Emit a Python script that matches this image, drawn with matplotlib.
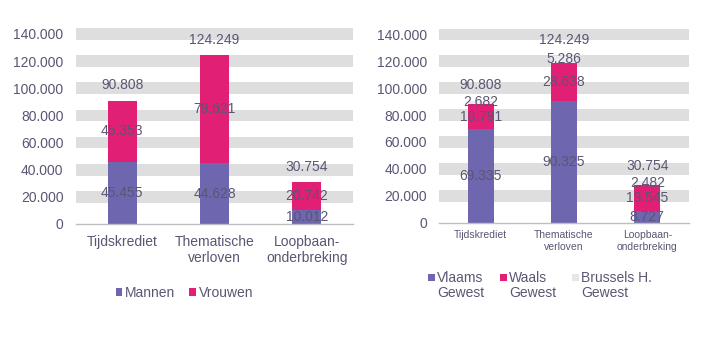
import matplotlib
matplotlib.use("Agg")
import matplotlib.pyplot as plt
from matplotlib.patches import Rectangle
import numpy as np

plt.rcParams['font.family'] = ['Liberation Sans', 'DejaVu Sans']

categories_left = ["Tijdskrediet", "Thematische\nverloven", "Loopbaan-\nonderbreking"]
mannen = [45455, 44628, 10012]
vrouwen = [45353, 79621, 20742]
totals = [90808, 124249, 30754]

categories_right = ["Tijdskrediet", "Thematische\nverloven", "Loopbaan-\nonderbreking"]
vlaams = [69335, 90325, 8727]
waals = [18791, 28638, 19545]
brussels = [2682, 5286, 2482]
legend_right = ["Vlaams\nGewest", "Waals\nGewest", "Brussels H.\nGewest"]

yticks = [0, 20000, 40000, 60000, 80000, 100000, 120000, 140000]

PURPLE = '#6E66AE'
MAGENTA = '#E01F75'
LIGHT = '#EDEDF1'
STRIPE = '#DEDEDE'
TXT = '#5a5673'
FS = 10

def fmt(v):
    return f"{v:,}".replace(",", ".")

W, H = 720, 343
fig = plt.figure(figsize=(7.2, 3.43), dpi=100)

def setup(ax, cats, xfs, pad_y, pad_x, ls):
    ax.set_xlim(-0.5, len(cats) - 0.5)
    ax.set_ylim(0, 145000)
    for v in yticks[1:]:
        ax.axhspan(v - 4300, v + 4300, color=STRIPE, lw=0, zorder=0)
    for s in ['top', 'right', 'left']:
        ax.spines[s].set_visible(False)
    ax.spines['bottom'].set_color('#BFBFBF')
    ax.spines['bottom'].set_linewidth(1.0)
    ax.set_yticks(yticks)
    ax.set_yticklabels([fmt(v) for v in yticks], fontsize=FS, color=TXT)
    ax.set_xticks(range(len(cats)))
    ax.set_xticklabels(cats, fontsize=xfs, color=TXT, linespacing=ls)
    ax.tick_params(axis='y', length=0, pad=pad_y)
    ax.tick_params(axis='x', length=0, pad=pad_x)

# Left chart
axL = fig.add_axes([0.1056, 0.347, 0.3847, 0.574])
setup(axL, categories_left, FS, 9, 8, 1.15)
x = np.arange(len(categories_left))
w = 0.315
b1 = axL.bar(x, mannen, w, color=PURPLE, zorder=2)
b2 = axL.bar(x, vrouwen, w, bottom=mannen, color=MAGENTA, zorder=2)
for i in range(len(x)):
    axL.text(x[i], mannen[i] / 2, fmt(mannen[i]), ha='center', va='center', fontsize=FS, color=TXT, zorder=3)
    axL.text(x[i], mannen[i] + vrouwen[i] / 2, fmt(vrouwen[i]), ha='center', va='center', fontsize=FS, color=TXT, zorder=3)
    axL.annotate(fmt(totals[i]), (x[i], mannen[i] + vrouwen[i]), xytext=(0, 11), textcoords='offset points',
                 ha='center', va='center', fontsize=FS, color=TXT, zorder=3)
legL = fig.legend([b1, b2], ["Mannen", "Vrouwen"], loc='center', bbox_to_anchor=(0.256, 0.1466), ncol=2,
                  frameon=False, fontsize=FS, handlelength=0.47, handleheight=0.47, handletextpad=0.2,
                  columnspacing=1.0, labelcolor=TXT)

# Right chart
axR = fig.add_axes([0.6097, 0.3507, 0.3472, 0.5687])
setup(axR, categories_right, 7.5, 8.6, 5, 1.3)
x = np.arange(len(categories_right))
w = 0.31
bottoms2 = [a + b for a, b in zip(vlaams, waals)]
r1 = axR.bar(x, vlaams, w, color=PURPLE, zorder=2)
r2 = axR.bar(x, waals, w, bottom=vlaams, color=MAGENTA, zorder=2)
r3 = axR.bar(x, brussels, w, bottom=bottoms2, color=LIGHT, zorder=1.5)
for i in range(len(x)):
    axR.text(x[i], vlaams[i] / 2, fmt(vlaams[i]), ha='center', va='center', fontsize=FS, color=TXT, zorder=3)
    axR.text(x[i], vlaams[i] + waals[i] / 2, fmt(waals[i]), ha='center', va='center', fontsize=FS, color=TXT, zorder=3)
    axR.text(x[i], bottoms2[i] + brussels[i] / 2, fmt(brussels[i]), ha='center', va='center', fontsize=FS, color=TXT, zorder=3)
    axR.annotate(fmt(totals[i]), (x[i], bottoms2[i] + brussels[i]), xytext=(0, 11), textcoords='offset points',
                 ha='center', va='center', fontsize=FS, color=TXT, zorder=3)

# Right legend (handle aligned with first line of two-line labels)
leg_colors = [PURPLE, MAGENTA, '#E6E6EA']
marker_px = [428, 500, 572]
for px, lab, col in zip(marker_px, legend_right, leg_colors):
    fig.patches.append(Rectangle((px / W, 1 - 280.7 / H), 6.5 / W, 6.5 / H, transform=fig.transFigure,
                                 facecolor=col, edgecolor='none'))
    fig.text((px + 9) / W, 1 - 270.5 / H, lab, ha='left', va='top', fontsize=FS, color=TXT, linespacing=1.15)

fig.savefig("out.png", dpi=100)
